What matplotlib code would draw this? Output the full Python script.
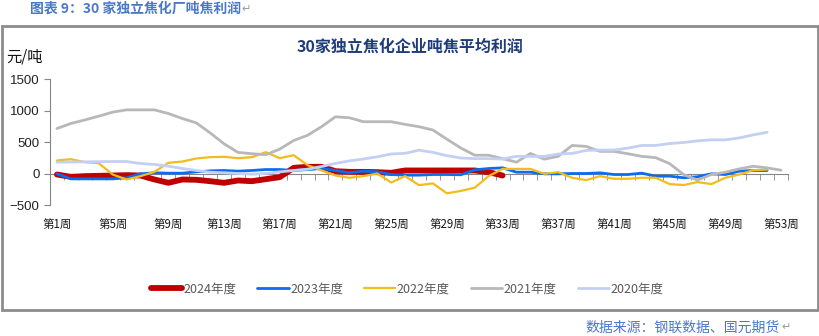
import matplotlib
matplotlib.use("Agg")
import matplotlib.pyplot as plt
from matplotlib.patches import Rectangle
from matplotlib.ticker import FixedLocator
import numpy as np

plt.rcParams['font.family'] = ['Noto Sans CJK SC', 'DejaVu Sans']

weeks = list(range(1, 54))
week_labels = ['第%d周' % w for w in weeks]

y2024 = [-16, -53, -42, -37, -32, -26, -32, -95, -148, -95, -100, -122, -148,
         -111, -122, -90, -58, 90, 106, 106, 37, 26, 26, 21, 11, 48, 48, 48,
         48, 48, 48, 21, -32]
y2023 = [-5, -85, -85, -85, -85, -69, -5, 11, 5, 5, 26, 42, 48, 37, 48, 63, 63,
         48, 63, 79, 48, 11, 37, 26, -16, -26, -26, -16, -16, -20, 58, 79, 90,
         21, 21, -5, -5, 0, 0, 10, -16, -16, 5, -42, -42, -68, -52, -5, -16,
         37, 47, 47]
y2022 = [206, 227, 180, 164, -16, -95, -42, 26, 169, 190, 238, 259, 265, 243,
         259, 339, 243, 291, 132, 48, -32, -69, -42, 0, -143, -42, -185, -157,
         -314, -277, -225, -42, 73, 73, 73, -5, 21, -68, -105, -42, -84, -84,
         -68, -68, -168, -183, -136, -168, -68, -16, 52, 63]
y2021 = [714, 794, 850, 910, 974, 1010, 1010, 1010, 952, 873, 804, 645, 471,
         335, 314, 298, 387, 524, 607, 743, 900, 885, 822, 822, 822, 780, 743,
         690, 545, 405, 290, 290, 235, 180, 318, 228, 273, 445, 430, 351, 351,
         314, 272, 251, 157, -16, -105, -16, 21, 73, 115, 89, 52]
y2020 = [180, 183, 185, 188, 190, 190, 159, 143, 116, 79, 48, 21, 11, 0, -10, 0,
         26, 48, 69, 111, 160, 200, 230, 265, 310, 320, 370, 335, 283, 246, 236,
         236, 230, 272, 272, 272, 309, 319, 366, 372, 372, 403, 445, 445, 476,
         492, 518, 534, 534, 565, 613, 654]

series = [
    ('2024年度', y2024, '#C00000', 4.2),
    ('2023年度', y2023, '#0A6CF0', 2.0),
    ('2022年度', y2022, '#F2BC1C', 1.6),
    ('2021年度', y2021, '#B8B8B8', 2.0),
    ('2020年度', y2020, '#C3D0F3', 2.0),
]

fig = plt.figure(figsize=(8.2, 3.36), dpi=100)
W, H = 820, 336

# outer frame
fig.patches.append(Rectangle((2 / W, 1 - 310 / H), 816 / W, 284 / H,
                             transform=fig.transFigure, fill=False,
                             edgecolor='#8C8C8C', linewidth=2))

ax = fig.add_axes([50 / W, 1 - 205 / H, 738 / W, 126 / H])

for i, (name, vals, col, lw) in enumerate(series):
    ax.plot(weeks[:len(vals)], vals, color=col, linewidth=lw, label=name,
            solid_capstyle='round', solid_joinstyle='round', zorder=3 + i)

ax.set_xlim(0.5, 53.5)
ax.set_ylim(-500, 1500)
ax.set_yticks([-500, 0, 500, 1000, 1500])

for s in ['top', 'right']:
    ax.spines[s].set_visible(False)
ax.spines['left'].set_color('#868686')
ax.spines['bottom'].set_color('#868686')
ax.spines['bottom'].set_position(('data', 0))
ax.spines['bottom'].set_zorder(2)

ax.set_xticks(weeks[::4])
ax.set_xticklabels(week_labels[::4], fontsize=8.3, color='#1A1A1A')
ax.xaxis.set_minor_locator(FixedLocator(np.arange(0.5, 54, 1)))
ax.tick_params(axis='x', which='major', length=0, pad=32)
ax.tick_params(axis='x', which='minor', length=4, color='#868686')
ax.tick_params(axis='y', length=4, color='#868686', labelsize=9.5,
               labelcolor='#222222')
for t in ax.get_yticklabels():
    t.set_family(['Liberation Sans', 'DejaVu Sans'])

leg = fig.legend(loc='center', bbox_to_anchor=(407 / W, 1 - 289 / H), ncol=5,
                 frameon=False, fontsize=9, handlelength=2.5,
                 handletextpad=0.1, columnspacing=1.7)
for t in leg.get_texts():
    t.set_color('#595959')

fig.text(30 / W, 1 - 9 / H, '图表 9：30 家独立焦化厂吨焦利润', fontsize=10,
         fontweight='bold', color='#4A78C8', va='center', ha='left')
fig.text(241 / W, 1 - 9 / H, '↵', fontsize=8, color='#999999', va='center',
         family=['DejaVu Sans'])
fig.text(410 / W, 1 - 47 / H, '30家独立焦化企业吨焦平均利润', fontsize=11.5,
         fontweight='bold', color='#1F3C7A', va='center', ha='center')
fig.text(6 / W, 1 - 57 / H, '元/吨', fontsize=11, color='#111111',
         va='center', ha='left')
fig.text(780 / W, 1 - 328 / H, '数据来源：钢联数据、国元期货', fontsize=10,
         color='#4A78C8', va='center', ha='right')
fig.text(781 / W, 1 - 327 / H, '↵', fontsize=8, color='#999999', va='center',
         family=['DejaVu Sans'])

fig.savefig('out.png', dpi=100)
